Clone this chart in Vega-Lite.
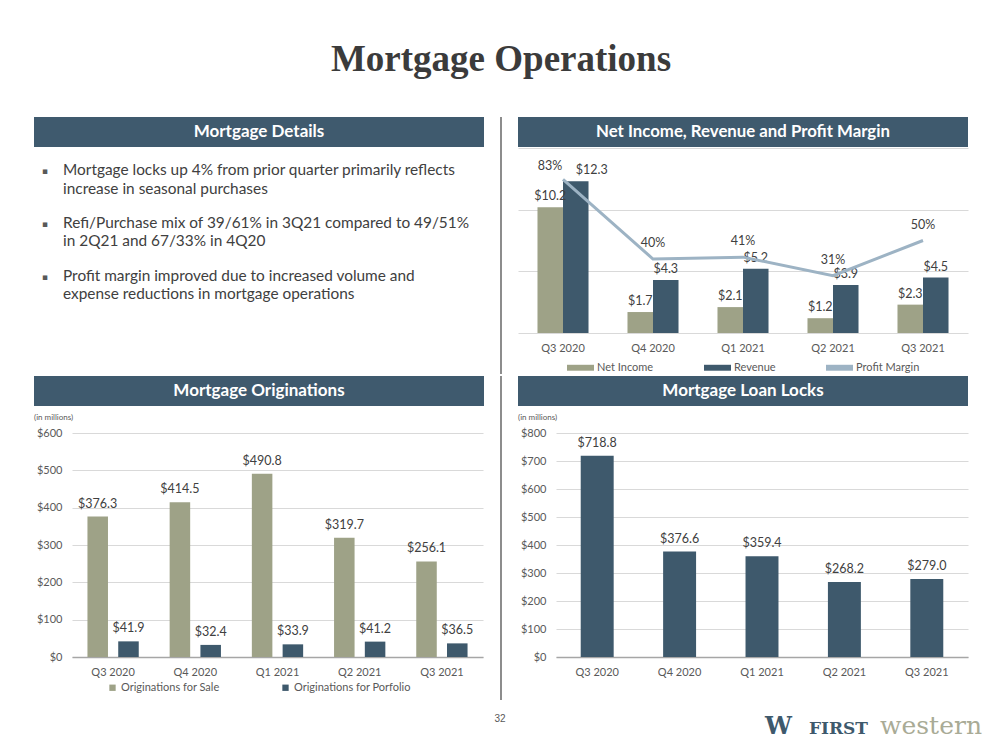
{
  "$schema": "https://vega.github.io/schema/vega-lite/v6.json",
  "background": "white",
  "padding": {"left": 34, "top": 41, "right": 10, "bottom": 5},
  "title": {"text": "Mortgage Operations", "font": "Liberation Serif", "fontSize": 37, "fontWeight": "bold", "color": "#3B3B3B", "anchor": "middle", "offset": 37, "dx": -7},
  "config": {
    "font": "Lato",
    "view": {"stroke": null},
    "axis": {"labelFont": "Lato", "labelFontSize": 11, "labelColor": "#595959", "gridColor": "#D9D9D9", "gridWidth": 1, "ticks": false, "domainColor": "#A6A6A6", "titleFont": "Lato"},
    "axisX": {"grid": false, "labelAngle": 0},
    "legend": {"labelFont": "Lato", "labelFontSize": 11, "labelColor": "#595959", "layout": {"bottom": {"anchor": "middle"}}},
    "text": {"font": "Lato"}
  },
  "datasets": {
    "income": [
      {"quarter": "Q3 2020", "series": "Net Income", "value": 10.2},
      {"quarter": "Q3 2020", "series": "Revenue", "value": 12.3},
      {"quarter": "Q4 2020", "series": "Net Income", "value": 1.7},
      {"quarter": "Q4 2020", "series": "Revenue", "value": 4.3},
      {"quarter": "Q1 2021", "series": "Net Income", "value": 2.1},
      {"quarter": "Q1 2021", "series": "Revenue", "value": 5.2},
      {"quarter": "Q2 2021", "series": "Net Income", "value": 1.2},
      {"quarter": "Q2 2021", "series": "Revenue", "value": 3.9},
      {"quarter": "Q3 2021", "series": "Net Income", "value": 2.3},
      {"quarter": "Q3 2021", "series": "Revenue", "value": 4.5}
    ],
    "margin": [
      {"quarter": "Q3 2020", "margin": 0.83},
      {"quarter": "Q4 2020", "margin": 0.40},
      {"quarter": "Q1 2021", "margin": 0.41},
      {"quarter": "Q2 2021", "margin": 0.31},
      {"quarter": "Q3 2021", "margin": 0.50}
    ],
    "orig": [
      {"quarter": "Q3 2020", "series": "Originations for Sale", "value": 376.3},
      {"quarter": "Q3 2020", "series": "Originations for Porfolio", "value": 41.9},
      {"quarter": "Q4 2020", "series": "Originations for Sale", "value": 414.5},
      {"quarter": "Q4 2020", "series": "Originations for Porfolio", "value": 32.4},
      {"quarter": "Q1 2021", "series": "Originations for Sale", "value": 490.8},
      {"quarter": "Q1 2021", "series": "Originations for Porfolio", "value": 33.9},
      {"quarter": "Q2 2021", "series": "Originations for Sale", "value": 319.7},
      {"quarter": "Q2 2021", "series": "Originations for Porfolio", "value": 41.2},
      {"quarter": "Q3 2021", "series": "Originations for Sale", "value": 256.1},
      {"quarter": "Q3 2021", "series": "Originations for Porfolio", "value": 36.5}
    ],
    "locks": [
      {"quarter": "Q3 2020", "value": 718.8},
      {"quarter": "Q4 2020", "value": 376.6},
      {"quarter": "Q1 2021", "value": 359.4},
      {"quarter": "Q2 2021", "value": 268.2},
      {"quarter": "Q3 2021", "value": 279.0}
    ],
    "details": [
      {"item": 1, "text": "Mortgage locks up 4% from prior quarter primarily reflects\nincrease in seasonal purchases"},
      {"item": 2, "text": "Refi/Purchase mix of 39/61% in 3Q21 compared to 49/51%\nin 2Q21 and 67/33% in 4Q20"},
      {"item": 3, "text": "Profit margin improved due to increased volume and\nexpense reductions in mortgage operations"}
    ]
  },
  "resolve": {"scale": {"color": "independent", "xOffset": "independent"}, "legend": {"color": "independent"}},
  "vconcat": [
    {
      "resolve": {"scale": {"color": "independent", "xOffset": "independent"}, "legend": {"color": "independent"}},
      "vconcat": [
        {
          "resolve": {"scale": {"color": "independent", "xOffset": "independent"}, "legend": {"color": "independent"}},
          "hconcat": [
            {
              "spacing": 1,
              "resolve": {"scale": {"color": "independent", "xOffset": "independent"}, "legend": {"color": "independent"}},
              "vconcat": [
                {
                  "width": 450, "height": 30,
                  "data": {"values": [{"label": "Mortgage Details"}]},
                  "layer": [
                    {"mark": {"type": "rect", "color": "#3F5A6E"}, "encoding": {}},
                    {"mark": {"type": "text", "color": "white", "font": "Lato", "fontWeight": "bold", "fontSize": 17}, "encoding": {"text": {"field": "label"}}}
                  ]
                },
                {
                  "width": 450, "height": 136,
                  "data": {"name": "details"},
                  "encoding": {
                    "y": {"field": "item", "type": "ordinal", "scale": {"type": "point", "padding": 0.295}, "axis": null},
                    "x": {"datum": 0, "type": "quantitative", "scale": {"domain": [0, 1]}, "axis": null}
                  },
                  "layer": [
                    {"mark": {"type": "text", "text": "▪", "font": "DejaVu Sans", "fontSize": 9, "color": "#595959", "align": "left", "baseline": "middle", "dx": 8, "dy": 8}},
                    {"mark": {"type": "text", "font": "Lato", "fontSize": 15.4, "color": "#404040", "align": "left", "baseline": "top", "dx": 29, "lineBreak": "\n", "lineHeight": 18.3}, "encoding": {"text": {"field": "text"}}}
                  ]
                }
              ]
            },
            {
              "width": 1, "height": 257,
              "data": {"values": [{}]},
              "mark": {"type": "rule", "color": "#404040", "strokeWidth": 1.2},
              "encoding": {"x": {"datum": 0, "type": "quantitative", "scale": {"domain": [0, 1]}, "axis": null}}
            },
            {
              "spacing": 1,
              "resolve": {"scale": {"color": "independent", "xOffset": "independent"}, "legend": {"color": "independent"}},
              "vconcat": [
                {
                  "width": 450, "height": 30,
                  "data": {"values": [{"label": "Net Income, Revenue and Profit Margin"}]},
                  "layer": [
                    {"mark": {"type": "rect", "color": "#3F5A6E"}, "encoding": {}},
                    {"mark": {"type": "text", "color": "white", "font": "Lato", "fontWeight": "bold", "fontSize": 16.8}, "encoding": {"text": {"field": "label"}}}
                  ]
                },
                {
                  "width": 450, "height": 185,
                  "layer": [
                    {
                      "data": {"name": "income"},
                      "encoding": {
                        "x": {"field": "quarter", "type": "nominal", "sort": ["Q3 2020", "Q4 2020", "Q1 2021", "Q2 2021", "Q3 2021"], "scale": {"paddingInner": 0.433, "paddingOuter": 0.2165}, "axis": {"labelPadding": 9, "domain": false, "title": null}},
                        "xOffset": {"field": "series", "type": "nominal", "sort": ["Net Income", "Revenue"], "scale": {"paddingInner": 0, "paddingOuter": 0}},
                        "y": {"field": "value", "type": "quantitative", "scale": {"domain": [0, 15]}, "axis": {"values": [0, 5, 10, 15], "labels": false, "domain": false, "ticks": false, "title": null}}
                      },
                      "layer": [
                        {
                          "mark": {"type": "bar"},
                          "encoding": {
                            "color": {"field": "series", "type": "nominal", "scale": {"domain": ["Net Income", "Revenue", "Profit Margin"], "range": ["#9EA287", "#3E596C", "#9DB3C4"]},
                              "legend": {"orient": "bottom", "direction": "horizontal", "title": null, "symbolType": "M-1,-0.22H1V0.22H-1Z", "symbolSize": 729, "symbolStrokeWidth": 0, "columnPadding": 50, "labelOffset": 3, "offset": 1}}
                          }
                        },
                        {
                          "mark": {"type": "text", "baseline": "middle", "dy": -11, "fontSize": 12.5, "color": "#404040", "dx": {"expr": "datum.quarter === 'Q3 2020' && datum.series === 'Revenue' ? 16 : 0"}},
                          "encoding": {"text": {"field": "value", "type": "quantitative", "format": "$.1f"}}
                        }
                      ]
                    },
                    {
                      "data": {"name": "margin"},
                      "encoding": {
                        "x": {"field": "quarter", "type": "nominal", "sort": ["Q3 2020", "Q4 2020", "Q1 2021", "Q2 2021", "Q3 2021"]},
                        "y": {"field": "margin", "type": "quantitative", "scale": {"domain": [0, 1]}, "axis": null}
                      },
                      "layer": [
                        {
                          "mark": {"type": "line", "strokeWidth": 3},
                          "encoding": {"color": {"datum": "Profit Margin", "type": "nominal", "scale": {"domain": ["Net Income", "Revenue", "Profit Margin"], "range": ["#9EA287", "#3E596C", "#9DB3C4"]}}}
                        },
                        {
                          "mark": {"type": "text", "baseline": "middle", "dy": {"expr": "datum.quarter === 'Q3 2020' ? -13 : -16"}, "dx": {"expr": "datum.quarter === 'Q3 2020' ? -13 : 0"}, "fontSize": 12.5, "color": "#404040"},
                          "encoding": {"text": {"field": "margin", "type": "quantitative", "format": ".0%"}}
                        }
                      ]
                    }
                  ],
                  "resolve": {"scale": {"y": "independent"}}
                }
              ]
            }
          ],
          "spacing": 16
        },
        {
          "resolve": {"scale": {"color": "independent", "xOffset": "independent"}, "legend": {"color": "independent"}},
          "hconcat": [
            {
              "spacing": 8,
              "resolve": {"scale": {"color": "independent", "xOffset": "independent"}, "legend": {"color": "independent"}},
              "vconcat": [
                {
                  "width": 450, "height": 30,
                  "data": {"values": [{"label": "Mortgage Originations"}]},
                  "layer": [
                    {"mark": {"type": "rect", "color": "#3F5A6E"}, "encoding": {}},
                    {"mark": {"type": "text", "color": "white", "font": "Lato", "fontWeight": "bold", "fontSize": 17}, "encoding": {"text": {"field": "label"}}}
                  ]
                },
                {
                  "width": 449, "height": 224,
                  "title": {"text": "(in millions)", "anchor": "start", "fontSize": 8, "fontWeight": "normal", "font": "Lato", "color": "#595959", "offset": 5},
                  "data": {"name": "orig"},
                  "encoding": {
                    "x": {"field": "quarter", "type": "nominal", "sort": ["Q3 2020", "Q4 2020", "Q1 2021", "Q2 2021", "Q3 2021"], "scale": {"range": [38, 449], "paddingInner": 0.376, "paddingOuter": 0.188}, "axis": {"labelPadding": 9, "domain": true, "domainWidth": 1.3, "title": null}},
                    "xOffset": {"field": "series", "type": "nominal", "sort": ["Originations for Sale", "Originations for Porfolio"], "scale": {"paddingInner": 0.333, "paddingOuter": 0}},
                    "y": {"field": "value", "type": "quantitative", "scale": {"domain": [0, 600]}, "axis": {"values": [0, 100, 200, 300, 400, 500, 600], "format": "$.0f", "offset": -38, "labelPadding": 10, "domain": false, "title": null}}
                  },
                  "layer": [
                    {
                      "mark": {"type": "bar"},
                      "encoding": {
                        "color": {"field": "series", "type": "nominal", "scale": {"domain": ["Originations for Sale", "Originations for Porfolio"], "range": ["#9EA287", "#3E596C"]},
                          "legend": {"orient": "bottom", "direction": "horizontal", "title": null, "symbolType": "square", "symbolSize": 40, "symbolStrokeWidth": 0, "columnPadding": 60, "labelOffset": 3, "offset": 5}}
                      }
                    },
                    {
                      "mark": {"type": "text", "baseline": "middle", "dy": -13, "fontSize": 12.5, "color": "#404040"},
                      "encoding": {"text": {"field": "value", "type": "quantitative", "format": "$.1f"}}
                    }
                  ]
                }
              ]
            },
            {
              "width": 1, "height": 324,
              "data": {"values": [{}]},
              "mark": {"type": "rule", "color": "#404040", "strokeWidth": 1.2},
              "encoding": {"x": {"datum": 0, "type": "quantitative", "scale": {"domain": [0, 1]}, "axis": null}}
            },
            {
              "spacing": 8,
              "resolve": {"scale": {"color": "independent", "xOffset": "independent"}, "legend": {"color": "independent"}},
              "vconcat": [
                {
                  "width": 450, "height": 30,
                  "data": {"values": [{"label": "Mortgage Loan Locks"}]},
                  "layer": [
                    {"mark": {"type": "rect", "color": "#3F5A6E"}, "encoding": {}},
                    {"mark": {"type": "text", "color": "white", "font": "Lato", "fontWeight": "bold", "fontSize": 17}, "encoding": {"text": {"field": "label"}}}
                  ]
                },
                {
                  "width": 450, "height": 224,
                  "title": {"text": "(in millions)", "anchor": "start", "fontSize": 8, "fontWeight": "normal", "font": "Lato", "color": "#595959", "offset": 5},
                  "data": {"name": "locks"},
                  "encoding": {
                    "x": {"field": "quarter", "type": "nominal", "sort": ["Q3 2020", "Q4 2020", "Q1 2021", "Q2 2021", "Q3 2021"], "scale": {"range": [38, 450], "paddingInner": 0.6, "paddingOuter": 0.3}, "axis": {"labelPadding": 9, "domain": true, "domainWidth": 1.3, "title": null}},
                    "y": {"field": "value", "type": "quantitative", "scale": {"domain": [0, 800]}, "axis": {"values": [0, 100, 200, 300, 400, 500, 600, 700, 800], "format": "$.0f", "offset": -38, "labelPadding": 10, "domain": false, "title": null}}
                  },
                  "layer": [
                    {"mark": {"type": "bar", "color": "#3E596C"}},
                    {
                      "mark": {"type": "text", "baseline": "middle", "dy": -13, "fontSize": 12.5, "color": "#404040"},
                      "encoding": {"text": {"field": "value", "type": "quantitative", "format": "$.1f"}}
                    }
                  ]
                }
              ]
            }
          ],
          "spacing": 16
        }
      ],
      "spacing": 0
    },
    {
      "width": 948, "height": 30,
      "data": {"values": [{}]},
      "layer": [
        {"mark": {"type": "text", "text": "32", "font": "Liberation Sans", "fontSize": 10, "color": "#595959", "dx": -8}, "encoding": {"x": {"datum": 0.5, "type": "quantitative", "scale": {"domain": [0, 1]}, "axis": null}}},
        {"mark": {"type": "text", "text": "western", "font": "DejaVu Serif", "fontSize": 25, "color": "#A9AB96", "align": "right", "baseline": "alphabetic", "dy": 15}, "encoding": {"x": {"datum": 1, "type": "quantitative", "scale": {"domain": [0, 1]}, "axis": null}}},
        {"mark": {"type": "text", "text": "FIRST", "font": "DejaVu Serif", "fontSize": 17, "fontWeight": "bold", "color": "#3E596C", "align": "right", "baseline": "alphabetic", "dx": -114, "dy": 15}, "encoding": {"x": {"datum": 1, "type": "quantitative", "scale": {"domain": [0, 1]}, "axis": null}}},
        {"mark": {"type": "text", "text": "W", "font": "DejaVu Serif", "fontSize": 24, "fontWeight": "bold", "color": "#3E596C", "align": "right", "baseline": "alphabetic", "dx": -190, "dy": 15}, "encoding": {"x": {"datum": 1, "type": "quantitative", "scale": {"domain": [0, 1]}, "axis": null}}}
      ]
    }
  ],
  "spacing": 3
}
